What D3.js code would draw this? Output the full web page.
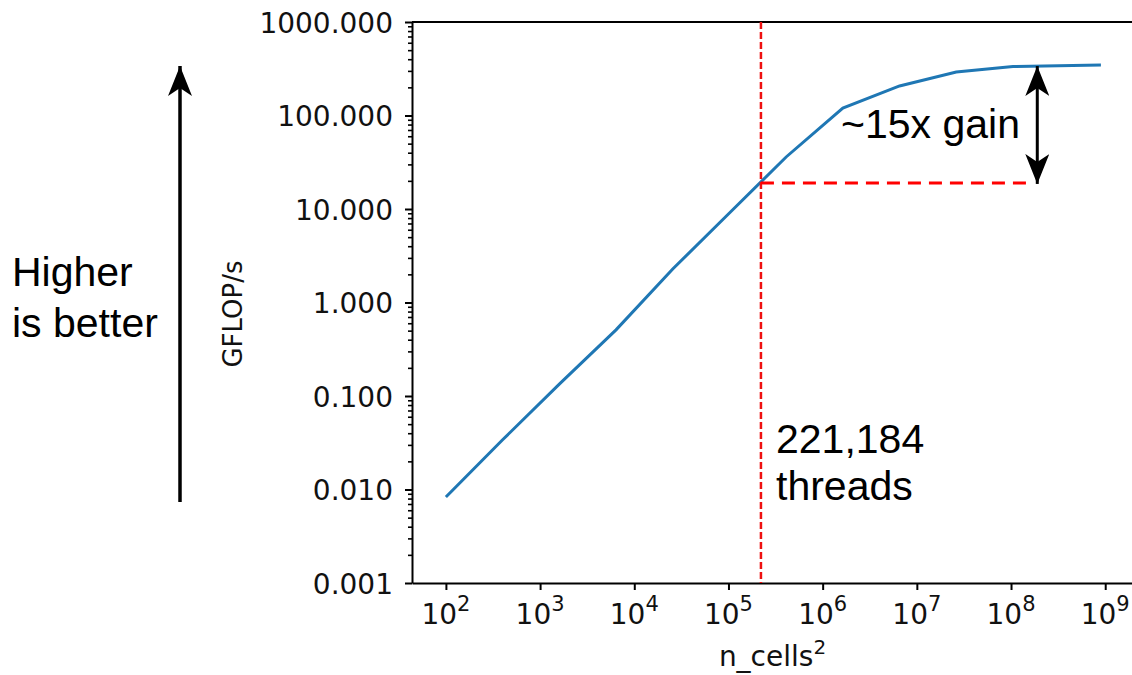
<!DOCTYPE html>
<html lang="en">
<head>
    <meta charset="UTF-8">
    <title>GFLOP/s vs n_cells²</title>
    <style>
        body {
            margin: 0;
            background: #fff;
        }
        .tick text {
            font-family: "DejaVu Sans", sans-serif;
            font-size: 28px;
            fill: #111;
        }
        .note {
            font-family: "Liberation Sans", Arial, sans-serif;
            font-size: 41px;
            fill: #000;
        }
    </style>
</head>
<body>
    <svg id="chart"></svg>
    <script src="https://d3js.org/d3.v7.min.js"></script>
    <script>
        // data
        const cellsSq = [100, 400, 1600, 6400, 25600, 102400, 409600, 1638400, 6553600, 26214400, 104857600, 900000000];
        const gflops = [0.0083, 0.034, 0.134, 0.51, 2.28, 9.06, 36, 120, 207, 292, 334, 347];
        const xTicks = [1e2, 1e3, 1e4, 1e5, 1e6, 1e7, 1e8, 1e9];
        const yTicks = [0.001, 0.01, 0.1, 1, 10, 100, 1000];
        const threads = 221184;
        const baseGflops = 19;    // value at the thread count
        const peakX = 1.9e8, peakGflops = 338;

        const width = 1132, height = 675;
        const plotLeft = 412, plotRight = 1133, plotTop = 22, plotBottom = 583;

        const svg = d3.select("#chart")
            .attr("width", width)
            .attr("height", height);

        const x = d3.scaleLog().domain([Math.pow(10, 1.64), Math.pow(10, 9.295)]).range([plotLeft, plotRight]);
        const y = d3.scaleLog().domain([0.001, 1000]).range([plotBottom, plotTop]);

        // minor ticks on y
        const yMinor = [];
        yTicks.slice(0, -1).forEach(d => {
            for (let k = 2; k <= 9; k++) yMinor.push(d * k);
        });

        svg.append("g")
            .attr("transform", `translate(${plotLeft},0)`)
            .call(d3.axisLeft(y).tickValues(yMinor).tickSize(4).tickFormat(""))
            .call(g => g.select(".domain").remove())
            .selectAll("line").attr("stroke-width", 1.6);

        const yAxis = svg.append("g")
            .attr("transform", `translate(${plotLeft},0)`)
            .call(d3.axisLeft(y).tickValues(yTicks).tickFormat(d3.format(".3f")).tickSize(7).tickSizeOuter(0).tickPadding(12));
        yAxis.selectAll("line").attr("stroke-width", 2);
        yAxis.select(".domain").attr("stroke-width", 2);
        yAxis.selectAll("text").attr("dy", "0.36em");

        const xAxis = svg.append("g")
            .attr("transform", `translate(0,${plotBottom})`)
            .call(d3.axisBottom(x).tickValues(xTicks).tickFormat("").tickSize(7).tickSizeOuter(0));
        xAxis.selectAll("line").attr("stroke-width", 2);
        xAxis.select(".domain").attr("stroke-width", 2);

        // 10^n labels
        const xl = svg.append("g")
            .selectAll("text")
            .data(xTicks)
            .join("text")
            .attr("x", d => x(d))
            .attr("y", 624)
            .attr("text-anchor", "middle")
            .style("font-family", "'DejaVu Sans', sans-serif")
            .style("font-size", "28px")
            .style("fill", "#111");
        xl.append("tspan").text("10");
        xl.append("tspan")
            .attr("dy", -13)
            .style("font-size", "21px")
            .text(d => Math.round(Math.log10(d)));

        // top spine
        svg.append("line")
            .attr("x1", plotLeft).attr("x2", plotRight)
            .attr("y1", plotTop).attr("y2", plotTop)
            .attr("stroke", "#000").attr("stroke-width", 2);

        // axis titles
        const xt = svg.append("text")
            .attr("x", (plotLeft + plotRight) / 2)
            .attr("y", 666)
            .attr("text-anchor", "middle")
            .style("font-family", "'DejaVu Sans', sans-serif")
            .style("font-size", "28px")
            .style("fill", "#111");
        xt.append("tspan").text("n_cells");
        xt.append("tspan").attr("dy", -12).style("font-size", "20px").text("2");

        svg.append("text")
            .attr("transform", `translate(242,314) rotate(-90)`)
            .attr("text-anchor", "middle")
            .style("font-family", "'DejaVu Sans', sans-serif")
            .style("font-size", "26px")
            .style("fill", "#111")
            .text("GFLOP/s");

        // performance curve
        const line = d3.line()
            .x((d, i) => x(cellsSq[i]))
            .y(d => y(d));

        svg.append("path")
            .datum(gflops)
            .attr("d", line)
            .attr("fill", "none")
            .attr("stroke", "#1f77b4")
            .attr("stroke-width", 3);

        // red guide lines
        svg.append("line")
            .attr("x1", x(threads)).attr("x2", x(threads))
            .attr("y1", plotTop).attr("y2", plotBottom)
            .attr("stroke", "#ee1111").attr("stroke-width", 2.5)
            .attr("stroke-dasharray", "7,3");

        svg.append("line")
            .attr("x1", x(threads)).attr("x2", x(peakX) - 8)
            .attr("y1", y(baseGflops)).attr("y2", y(baseGflops))
            .attr("stroke", "#ff0000").attr("stroke-width", 3)
            .attr("stroke-dasharray", "13,8");

        // arrows
        const defs = svg.append("defs");
        defs.append("marker")
            .attr("id", "head")
            .attr("viewBox", "0 0 30 24")
            .attr("refX", 30).attr("refY", 12)
            .attr("markerWidth", 30).attr("markerHeight", 24)
            .attr("markerUnits", "userSpaceOnUse")
            .attr("orient", "auto-start-reverse")
            .append("path")
            .attr("d", "M0,0 L30,12 L0,24 L8,12 Z")
            .attr("fill", "#000");

        svg.append("line")
            .attr("x1", 180).attr("x2", 180)
            .attr("y1", 502).attr("y2", 66)
            .attr("stroke", "#000").attr("stroke-width", 3.5)
            .attr("marker-end", "url(#head)");

        svg.append("line")
            .attr("x1", x(peakX)).attr("x2", x(peakX))
            .attr("y1", y(baseGflops) + 1).attr("y2", y(peakGflops))
            .attr("stroke", "#000").attr("stroke-width", 3)
            .attr("marker-start", "url(#head)")
            .attr("marker-end", "url(#head)");

        // annotations
        svg.append("text").attr("class", "note").attr("x", 12).attr("y", 286).text("Higher");
        svg.append("text").attr("class", "note").attr("x", 12).attr("y", 337).text("is better");
        svg.append("text").attr("class", "note").attr("x", 841).attr("y", 138).text("~15x gain");
        svg.append("text").attr("class", "note").attr("x", 776).attr("y", 453).text("221,184");
        svg.append("text").attr("class", "note").attr("x", 776).attr("y", 500).text("threads");
    </script>
</body>
</html>
